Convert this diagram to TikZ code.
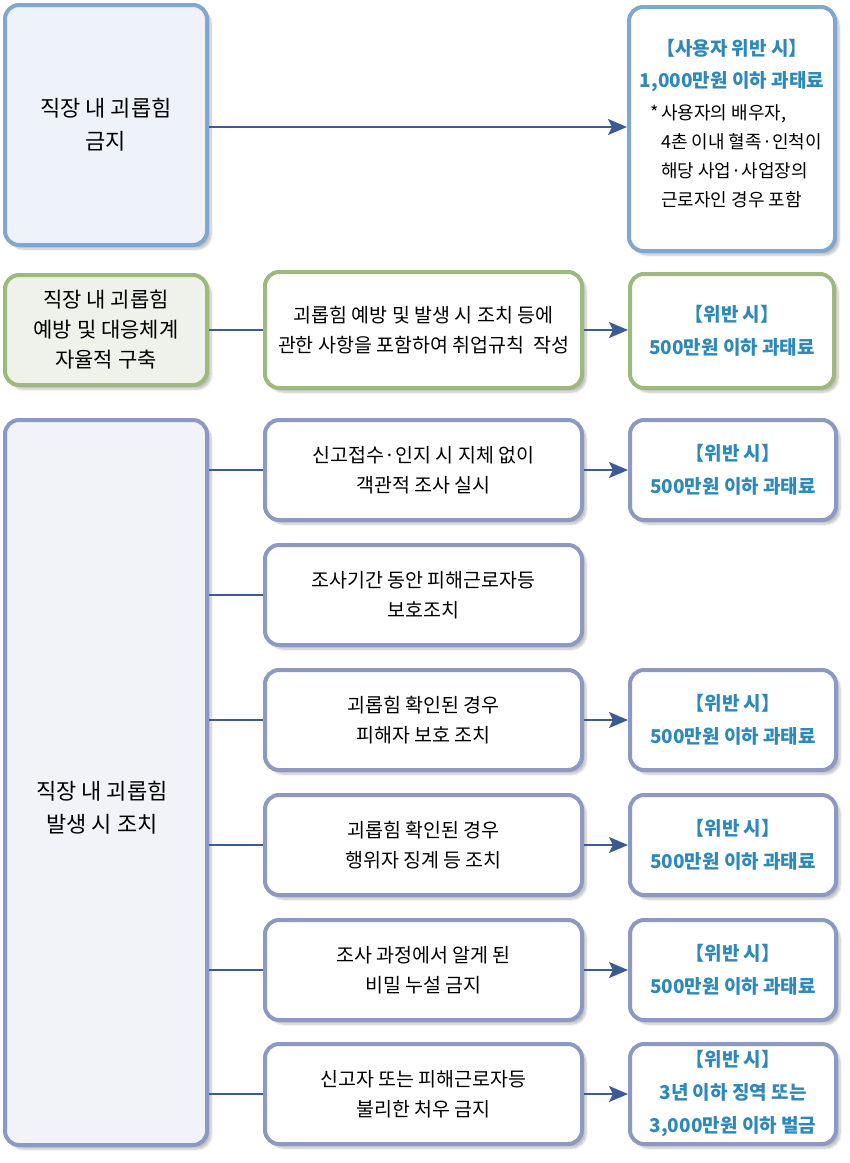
\documentclass[tikz,border=0pt]{standalone}
\usepackage{fontspec}
\setmainfont{Noto Sans CJK KR}
\usetikzlibrary{arrows.meta,shadows.blur}
\definecolor{bluebd}{HTML}{7FA7D1}
\definecolor{bluefill}{HTML}{EEF3FA}
\definecolor{greenbd}{HTML}{9BBA7C}
\definecolor{greenfill}{HTML}{EEF2EA}
\definecolor{purplebd}{HTML}{8C99C5}
\definecolor{purplefill}{HTML}{F1F3F9}
\definecolor{bluetext}{HTML}{2C89BF}
\definecolor{linecol}{HTML}{3B5B98}
\begin{document}
\begin{tikzpicture}[x=1pt,y=-1pt,
  box/.style={line width=4pt, rounded corners=14pt, inner sep=0pt, align=center, text=black,
    blur shadow={shadow xshift=4pt, shadow yshift=-4pt, shadow blur steps=6, shadow opacity=25}},
  bluebox/.style={box, draw=bluebd},
  greenbox/.style={box, draw=greenbd},
  purplebox/.style={box, draw=purplebd},
  midbox/.style={minimum width=317pt, minimum height=100pt, fill=white, font=\fontsize{19.5}{30}\selectfont},
  rightbox/.style={minimum width=206pt, minimum height=100pt, fill=white, text=bluetext, font=\fontsize{19}{33}\selectfont\bfseries},
  conn/.style={draw=linecol, line width=2pt},
  arr/.style={conn, -{Stealth[length=19pt, width=16pt, inset=4pt]}},
  lbl/.style={align=center, inner sep=0pt}
]
\useasboundingbox (0,0) rectangle (850,1163);

% Row 1
\node[bluebox, fill=bluefill, minimum width=202pt, minimum height=240pt, font=\fontsize{22}{33}\selectfont] (A) at (106,125) {직장 내 괴롭힘\\금지};
\node[bluebox, fill=white, minimum width=206pt, minimum height=244pt] (B) at (732,129) {};
\node[lbl, text=bluetext, font=\fontsize{19}{32}\selectfont\bfseries] (Bt) at (732,66) {【사용자 위반 시】\\1,000만원 이하 과태료};
\node[lbl, anchor=north west, align=left, font=\fontsize{18}{29}\selectfont] (Bn) at (650,104) {\makebox[11pt][l]{*}사용자의 배우자,\\\hspace*{11pt}4촌 이내 혈족·인척이\\\hspace*{11pt}해당 사업·사업장의\\\hspace*{11pt}근로자인 경우 포함};
\draw[arr] (A.east |- 0,127) -- (B.west |- 0,127);

% Row 2
\node[greenbox, fill=greenfill, minimum width=202pt, minimum height=110pt, font=\fontsize{21}{30}\selectfont] (C) at (106,330) {직장 내 괴롭힘\\예방 및 대응체계\\자율적 구축};
\node[greenbox, midbox, minimum height=116pt] (D) at (423.5,330) {괴롭힘 예방 및 발생 시 조치 등에\\관한 사항을 포함하여 취업규칙~~작성};
\node[greenbox, rightbox, minimum width=204pt, minimum height=114pt] (E) at (732,331) {【위반 시】\\500만원 이하 과태료};
\draw[conn] (C.east |- D.west) -- (D.west);
\draw[arr] (D.east) -- (D.east -| E.west);

% Row 3
\node[purplebox, fill=purplefill, minimum width=202pt, minimum height=725pt] (F) at (106,782.5) {};
\node[lbl, font=\fontsize{22}{33}\selectfont] (Ft) at (102,808) {직장 내 괴롭힘\\발생 시 조치};

\node[purplebox, midbox] (M1) at (423.5,470) {신고접수·인지 시 지체 없이\\객관적 조사 실시};
\node[purplebox, midbox] (M2) at (423.5,595) {조사기간 동안 피해근로자등\\보호조치};
\node[purplebox, midbox] (M3) at (423.5,720) {괴롭힘 확인된 경우\\피해자 보호 조치};
\node[purplebox, midbox] (M4) at (423.5,845) {괴롭힘 확인된 경우\\행위자 징계 등 조치};
\node[purplebox, midbox] (M5) at (423.5,970) {조사 과정에서 알게 된\\비밀 누설 금지};
\node[purplebox, midbox] (M6) at (423.5,1094) {신고자 또는 피해근로자등\\불리한 처우 금지};

\node[purplebox, rightbox] (R1) at (733,470) {【위반 시】\\500만원 이하 과태료};
\node[purplebox, rightbox] (R3) at (733,720) {【위반 시】\\500만원 이하 과태료};
\node[purplebox, rightbox] (R4) at (733,845) {【위반 시】\\500만원 이하 과태료};
\node[purplebox, rightbox] (R5) at (733,970) {【위반 시】\\500만원 이하 과태료};
\node[purplebox, rightbox, font=\fontsize{19}{33}\selectfont\bfseries] (R6) at (733,1094) {【위반 시】\\3년 이하 징역 또는\\3,000만원 이하 벌금};

\foreach \m in {M1,M2,M3,M4,M5,M6} \draw[conn] (F.east |- \m.west) -- (\m.west);
\foreach \m/\r in {M1/R1,M3/R3,M4/R4,M5/R5,M6/R6} \draw[arr] (\m.east) -- (\r.west);
\end{tikzpicture}
\end{document}
